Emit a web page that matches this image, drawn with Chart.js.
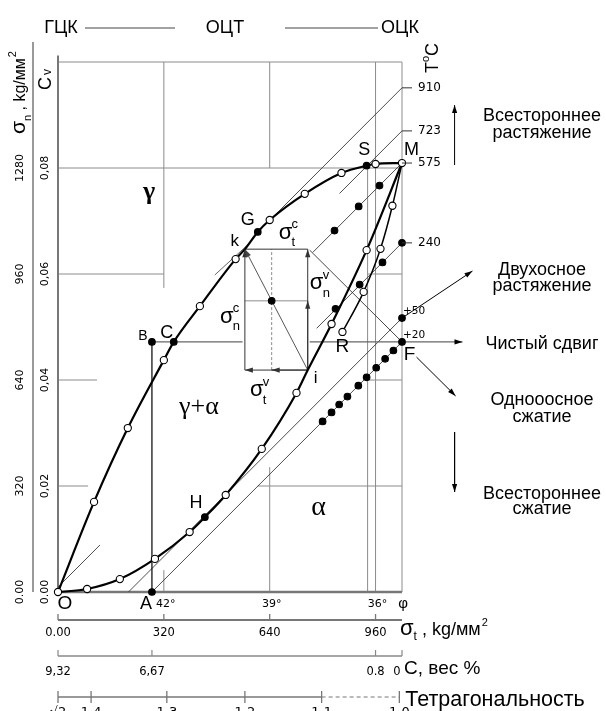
<!DOCTYPE html>
<html lang="ru">
<head>
<meta charset="utf-8">
<title>σt – σn</title>
<script src="https://cdn.jsdelivr.net/npm/chart.js@4.4.1/dist/chart.umd.min.js"></script>
<style>
  html, body { margin: 0; padding: 0; background: #fff; }
  canvas { display: block; }
</style>
</head>
<body>
<canvas id="diagram" width="606" height="711"></canvas>
<script>
// ---------- axes (σt, σn in kg/mm²) ----------
const sigmaTTicks  = [0, 320, 640, 960];
const sigmaTLabels = ['0.00', '320', '640', '960'];
const angleAt      = [320, 640, 960, 1040];
const angleLabels  = ['42°', '39°', '36°', 'φ'];
const sigmaNTicks  = [0, 320, 640, 960, 1280];
const sigmaNLabels = ['0.00', '320', '640', '960', '1280'];
const cvLabels     = ['0.00', '0,02', '0,04', '0,06', '0,08'];
const carbonAt     = [0, 284, 960, 1040];
const carbonLabels = ['9,32', '6,67', '0.8', '0'];
const tetraAt      = [0, 100, 329, 565, 797, 1032];
const tetraLabels  = ['√2', '1.4', '1.3', '1.2', '1.1', '1.0'];

// ---------- boundary curves ('o' open, 'f' filled, 'm' circled point M) ----------
const gammaX    = [0, 109, 211, 320, 350, 429, 537, 565, 604, 640, 746, 857, 933, 960, 1040];
const gammaY    = [0, 272, 495, 700, 755, 863, 1005, 1035, 1087, 1123, 1202, 1265, 1287, 1292, 1295];
const gammaMark = ['o', 'o', 'o', 'o', 'f', 'o', 'o', '', 'f', 'o', 'o', 'o', 'f', 'o', 'm'];

const alphaX    = [0, 88, 187, 293, 398, 444, 507, 616, 721, 755, 827, 933, 1040];
const alphaY    = [0, 9, 39, 100, 181, 226, 293, 432, 601, 670, 809, 1032, 1295];
const alphaMark = ['', 'o', 'o', 'o', 'o', 'f', 'o', 'o', 'o', '', 'o', 'o', ''];

const rX    = [860, 924, 975, 1011, 1040];
const rY    = [785, 906, 1036, 1166, 1295];
const rMark = ['o', 'o', 'o', 'o', ''];

// ---------- isotherms, T °C ----------
const isoTemps = ['910', '723', '575', '240', '+50', '+20'];
const isoFromX = [634, 851, 770, 782, 213, 284];
const isoFromY = [1116, 1203, 1025, 796, 0, 0];
const isoEdgeY = [1522, 1392, 1295, 1054, 827, 755];

const dots575X = [836, 909, 972];
const dots575Y = [1091, 1164, 1227];
const dots240X = [839, 912, 981, 1040];
const dots240Y = [855, 928, 995, 1054];
const dots50X  = [1040];
const dots50Y  = [827];
const dots20X  = [800, 827, 850, 875, 908, 933, 962, 989, 1014, 1040];
const dots20Y  = [515, 542, 566, 590, 623, 648, 677, 704, 729, 755];

// ---------- named points ----------
const pointB = [284, 755];
const pointA = [284, 0];
const pointK = [565, 1035];
const pointI = [755, 670];

// ---------- helpers ----------
const SANS  = '"Liberation Sans", Arial, sans-serif';
const NUM   = '"DejaVu Sans", sans-serif';
const SERIF = '"Liberation Serif", "Times New Roman", serif';
const GREY  = '#8c8c8c';

const xy = (xs, ys) => xs.map((x, i) => ({ x, y: ys[i] }));
const marked = (xs, ys, marks, m) => xs.map((x, i) => ({ x, y: ys[i], m: marks[i] }))
  .filter(p => p.m === m).map(({ x, y }) => ({ x, y }));

const datasets = [];
function addLine(points, opts = {}) {
  datasets.push(Object.assign({
    data: points.map(([x, y]) => ({ x, y })),
    showLine: true, pointRadius: 0, borderColor: '#000', borderWidth: 1,
    fill: false, clip: false, order: 5
  }, opts));
}
function addCurve(xs, ys, width) {
  datasets.push({
    data: xy(xs, ys), showLine: true, pointRadius: 0, borderColor: '#000',
    borderWidth: width, cubicInterpolationMode: 'monotone', clip: false, order: 3
  });
}
function addMarkers(points, filled, radius) {
  datasets.push({
    data: points, showLine: false, pointRadius: radius,
    pointBackgroundColor: filled ? '#000' : '#fff', pointBorderColor: '#000',
    pointBorderWidth: 1.1, clip: false, order: 1
  });
}

// frame and reference lines
[
  [[0, 1600], [1040, 1600]],
  [[0, 1280], [1040, 1280]],
  [[1040, 0], [1040, 1600]],
  [[960, 0], [960, 1600]],
  [[936, 0], [936, 1280]],
  [[320, 918], [320, 1600]],
  [[0, 960], [320, 960]],
  [[640, 1280], [640, 1600]],
  [[0, 640], [118, 640]],
  [[0, 320], [91, 320]],
  [[604, 320], [1040, 320]],
  [[936, 960], [1040, 960]],
  [[936, 640], [1040, 640]],
  [[640, 0], [640, 377]],
  [[320, 0], [320, 66]]
].forEach(g => addLine(g, { borderColor: GREY, borderWidth: 1, order: 10 }));
addLine([[0, 0], [0, 1620]], { borderColor: '#777', borderWidth: 2, order: 9 });
addLine([[0, 0], [1040, 0]], { borderColor: '#777', borderWidth: 2.5, order: 9 });

// isotherms
isoTemps.forEach((t, i) => addLine([[isoFromX[i], isoFromY[i]], [1040, isoEdgeY[i]]],
  { borderColor: '#3a3a3a', borderWidth: 0.9, order: 6 }));
addLine([[0, 15], [127, 142]], { borderColor: '#3a3a3a', borderWidth: 0.9, order: 6 });
// tangent at k
addLine([[474, 957], [580, 1054]], { borderColor: '#555', borderWidth: 0.9, order: 6 });

// A–B and the pure-shear level
addLine([pointA, pointB], { borderColor: '#000', borderWidth: 1.2 });
addLine([pointB, [558, 755]], { borderColor: '#666', borderWidth: 1.3 });
addLine([[761, 755], [1223, 755]], { borderColor: '#666', borderWidth: 1.3, arrow: true, headColor: '#000' });

// loading directions
addLine([[761, 1032], [1040, 755]], { borderColor: '#333', borderWidth: 0.9 });
addLine([[1084, 709], [1202, 592]], { borderColor: '#000', borderWidth: 1, arrow: true });
addLine([[1040, 827], [1253, 969]], { borderColor: '#000', borderWidth: 1, arrow: true });
addLine([[1199, 1289], [1199, 1470]], { borderColor: '#000', borderWidth: 1, arrow: true });
addLine([[1199, 483], [1199, 302]], { borderColor: '#000', borderWidth: 1, arrow: true });

// stress construction at k
addLine([pointK, [755, 1035]], { borderColor: '#333', borderWidth: 1 });
addLine([[565, 670], pointK], { borderColor: '#333', borderWidth: 1, arrow: true });
addLine([pointI, [755, 1035]], { borderColor: '#333', borderWidth: 1, arrow: true });
addLine([pointI, [755, 879]], { borderColor: '#333', borderWidth: 1, arrow: true });
addLine([pointI, [565, 670]], { borderColor: '#333', borderWidth: 1, arrow: true });
addLine([pointI, [646, 670]], { borderColor: '#333', borderWidth: 1, arrow: true });
addLine([[646, 670], [646, 1035]], { borderColor: GREY, borderWidth: 1, borderDash: [3, 2] });
addLine([[565, 879], [755, 879]], { borderColor: GREY, borderWidth: 1 });
addLine([pointI, pointK], { borderColor: '#444', borderWidth: 0.9, arrow: true });

// boundary curves
addCurve(gammaX, gammaY, 2.2);
addCurve(alphaX, alphaY, 2.2);
addCurve(rX, rY, 1.5);

// markers
addMarkers([...marked(gammaX, gammaY, gammaMark, 'o'), ...marked(alphaX, alphaY, alphaMark, 'o'),
            ...marked(rX, rY, rMark, 'o'), ...marked(gammaX, gammaY, gammaMark, 'm')], false, 3.6);
addMarkers([...marked(gammaX, gammaY, gammaMark, 'f'), ...marked(alphaX, alphaY, alphaMark, 'f'),
            ...xy(dots575X, dots575Y), ...xy(dots240X, dots240Y), ...xy(dots50X, dots50Y),
            ...xy(dots20X, dots20Y), { x: pointB[0], y: pointB[1] }, { x: pointA[0], y: pointA[1] },
            { x: 646, y: 879 }], true, 3.3);
addMarkers(marked(gammaX, gammaY, gammaMark, 'm'), true, 1.3);

function head(ctx, x1, y1, x2, y2, len = 8, half = 2.6) {
  const a = Math.atan2(y2 - y1, x2 - x1);
  ctx.beginPath();
  ctx.moveTo(x2, y2);
  ctx.lineTo(x2 - len * Math.cos(a) + half * Math.sin(a), y2 - len * Math.sin(a) - half * Math.cos(a));
  ctx.lineTo(x2 - len * Math.cos(a) - half * Math.sin(a), y2 - len * Math.sin(a) + half * Math.cos(a));
  ctx.closePath();
  ctx.fill();
}

const arrowPlugin = {
  id: 'arrowHeads',
  afterDatasetsDraw(chart) {
    const ctx = chart.ctx;
    chart.data.datasets.forEach((ds, i) => {
      if (!ds.arrow) return;
      const el = chart.getDatasetMeta(i).data;
      const a = el[el.length - 2], b = el[el.length - 1];
      ctx.save();
      ctx.fillStyle = ds.headColor || ds.borderColor;
      head(ctx, a.x, a.y, b.x, b.y);
      ctx.restore();
    });
  }
};

const labelPlugin = {
  id: 'diagramLabels',
  afterDraw(chart) {
    const { ctx, chartArea: ca } = chart;
    const X = v => chart.scales.x.getPixelForValue(v);
    const Y = v => chart.scales.y.getPixelForValue(v);
    const L = ca.left, R = ca.right, T = ca.top, B = ca.bottom;
    ctx.save();
    ctx.fillStyle = '#000';
    const text = (s, x, y, font, align = 'center', base = 'middle') => {
      ctx.font = font; ctx.textAlign = align; ctx.textBaseline = base; ctx.fillText(s, x, y);
    };
    const seg = (x1, y1, x2, y2, color, w, dash = []) => {
      ctx.save(); ctx.strokeStyle = color; ctx.lineWidth = w; ctx.setLineDash(dash);
      ctx.beginPath(); ctx.moveTo(x1, y1); ctx.lineTo(x2, y2); ctx.stroke(); ctx.restore();
    };
    const rot = (fn, x, y) => { ctx.save(); ctx.translate(x, y); ctx.rotate(-Math.PI / 2); fn(); ctx.restore(); };
    const sig = (cx, cy, sup, sub) => {
      text('σ', cx, cy + 5.5, `22px ${SANS}`, 'center', 'alphabetic');
      text(sup, cx + 6, cy - 9, `13px ${SANS}`, 'left', 'middle');
      text(sub, cx + 6, cy + 9, `13px ${SANS}`, 'left', 'middle');
    };

    // crystal structure row
    text('ГЦК', L + 3, T - 34, `18px ${SANS}`);
    seg(L + 27, T - 34, L + 117, T - 34, '#444', 1);
    text('ОЦТ', L + 167, T - 34, `18px ${SANS}`);
    seg(L + 227, T - 34, R - 24, T - 34, '#444', 1);
    text('ОЦК', R - 2, T - 34, `18px ${SANS}`);

    // left axes
    seg(L - 25, T - 20, L - 25, B, '#777', 1.5);
    sigmaNTicks.forEach((v, i) => {
      rot(() => text(sigmaNLabels[i], 0, 0, `11px ${NUM}`), L - 38, Y(v));
      rot(() => text(cvLabels[i], 0, 0, `11px ${NUM}`), L - 13, Y(v));
    });
    rot(() => {
      ctx.font = `18px ${SANS}`; ctx.textAlign = 'left'; ctx.textBaseline = 'alphabetic';
      ctx.fillText('C', 0, 6);
      const w = ctx.measureText('C').width;
      ctx.font = `12px ${SANS}`; ctx.fillText('v', w + 2, 6);
    }, L - 13, 90);
    rot(() => {
      ctx.textAlign = 'left'; ctx.textBaseline = 'alphabetic';
      ctx.font = `21px ${SANS}`; ctx.fillText('σ', 0, 5);
      let u = ctx.measureText('σ').width;
      ctx.font = `11px ${SANS}`; ctx.fillText('n', u, 11); u += ctx.measureText('n').width;
      ctx.font = `16px ${SANS}`; ctx.fillText(' , kg/мм', u, 5); u += ctx.measureText(' , kg/мм').width;
      ctx.font = `11px ${SANS}`; ctx.fillText('2', u + 1, -4);
    }, L - 38, 134);

    // labels inside the diagram
    text('γ', X(275), Y(1208), `bold 26px ${SERIF}`);
    text('γ+α', X(426), Y(558), `26px ${SERIF}`);
    text('α', X(788), Y(254), `28px ${SERIF}`);
    const letters = [['B', 257, 773, 14], ['C', 329, 782, 18], ['k', 534, 1060, 17], ['G', 574, 1123, 18],
      ['H', 417, 269, 18], ['i', 779, 646, 17], ['R', 860, 739, 19], ['S', 926, 1335, 18],
      ['M', 1069, 1335, 18], ['F', 1063, 716, 19], ['O', 21, -36, 19], ['A', 266, -36, 18]];
    letters.forEach(([s, x, y, f]) => text(s, X(x), Y(y), `${f}px ${SANS}`));
    sig(X(510), Y(830), 'c', 'n');
    sig(X(688), Y(1081), 'c', 't');
    sig(X(782), Y(930), 'v', 'n');
    sig(X(601), Y(607), 'v', 't');
    angleLabels.forEach((s, i) => text(s, X(angleAt[i]) + (i < 3 ? 2 : 1), B + 12,
      i < 3 ? `11px ${NUM}` : `15px ${SANS}`));

    // isotherm labels
    isoTemps.forEach((t, i) => {
      const yy = Y(isoEdgeY[i]);
      if (i < 4) {
        seg(R, yy, R + 10, yy, '#333', 1);
        text(t, R + 16, yy, `12px ${NUM}`, 'left');
      } else {
        text(t, R + 1, yy - 7, `10.5px ${NUM}`, 'left');
      }
    });
    rot(() => {
      ctx.textAlign = 'left'; ctx.textBaseline = 'middle';
      ctx.font = `18px ${SANS}`; ctx.fillText('T', 0, 0);
      let u = ctx.measureText('T').width;
      ctx.font = `11px ${SANS}`; ctx.fillText('o', u, -7); u += ctx.measureText('o').width;
      ctx.font = `18px ${SANS}`; ctx.fillText('C', u, 0);
    }, R + 31, 73);

    // loading-mode captions
    const cx = R + 140;
    [['Всестороннее', 121], ['растяжение', 138], ['Двухосное', 275], ['растяжение', 291],
     ['Чистый сдвиг', 349], ['Однооосное', 405], ['сжатие', 422], ['Всестороннее', 499], ['сжатие', 514]]
      .forEach(([s, y]) => text(s, cx, y, `18px ${SANS}`, 'center', 'alphabetic'));

    // σt axis
    const yT = B + 28;
    seg(X(0), yT, X(1040), yT, '#777', 2);
    sigmaTTicks.forEach((v, i) => {
      seg(X(v), yT - 6, X(v), yT, '#777', 1.3);
      text(sigmaTLabels[i], X(v), yT + 13, `11.5px ${NUM}`);
    });
    ctx.textAlign = 'left'; ctx.textBaseline = 'alphabetic';
    ctx.font = `22px ${SANS}`; ctx.fillText('σ', R - 2, yT + 15);
    let u = R - 2 + ctx.measureText('σ').width;
    ctx.font = `12px ${SANS}`; ctx.fillText('t', u, yT + 20); u += ctx.measureText('t').width;
    ctx.font = `18px ${SANS}`; ctx.fillText(' , kg/мм', u, yT + 15); u += ctx.measureText(' , kg/мм').width;
    ctx.font = `11px ${SANS}`; ctx.fillText('2', u + 1, yT + 6);

    // carbon content axis
    const yC = B + 64;
    seg(X(0), yC, X(1040), yC, '#888', 1.5);
    carbonAt.forEach((v, i) => {
      seg(X(v), yC - 6, X(v), yC, '#888', 1.2);
      text(carbonLabels[i], X(v) - (i === 3 ? 5 : 0), yC + 16, `11.5px ${NUM}`);
    });
    text('C, вес %', R + 2, yC + 18, `19px ${SANS}`, 'left', 'alphabetic');

    // tetragonality axis
    const yG = B + 105;
    seg(X(tetraAt[0]), yG, X(tetraAt[4]), yG, '#777', 1.5);
    seg(X(tetraAt[4]), yG, X(tetraAt[5]), yG, '#777', 1.2, [4, 3]);
    tetraAt.forEach((v, i) => {
      seg(X(v), yG - 6, X(v), yG + 6, '#777', 1.3);
      text(tetraLabels[i], X(v), yG + 19, `13px ${NUM}`, 'center', 'alphabetic');
    });
    text('Тетрагональность', X(tetraAt[5]) + 6, yG + 9, `21.5px ${SANS}`, 'left', 'alphabetic');
    ctx.restore();
  }
};

new Chart(document.getElementById('diagram'), {
  type: 'scatter',
  data: { datasets },
  options: {
    responsive: false,
    devicePixelRatio: 1,
    animation: false,
    events: [],
    layout: { padding: { left: 58, right: 204, top: 62, bottom: 119 } },
    scales: {
      x: { type: 'linear', min: 0, max: 1040, display: false },
      y: { type: 'linear', min: 0, max: 1600, display: false }
    },
    plugins: { legend: { display: false }, tooltip: { enabled: false } }
  },
  plugins: [arrowPlugin, labelPlugin]
});
</script>
</body>
</html>
